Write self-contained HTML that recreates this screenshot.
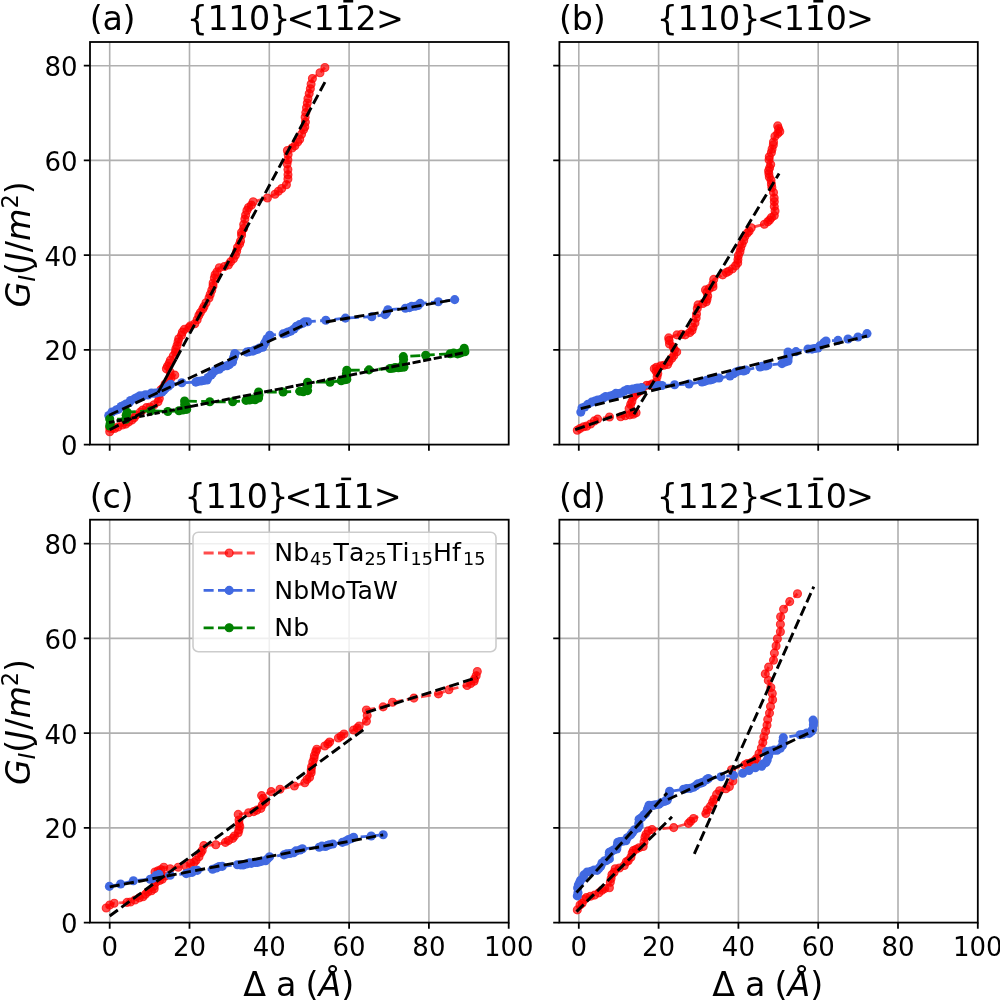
<!DOCTYPE html>
<html lang="en"><head><meta charset="utf-8"><title>Crack resistance curves</title>
<style>html,body{margin:0;padding:0;background:#fff}svg{display:block;will-change:transform}</style></head>
<body>
<svg width="1000" height="1001" viewBox="0 0 1000 1001" font-family="'DejaVu Sans', 'Liberation Sans', sans-serif" fill="#000">
<rect width="1000" height="1001" fill="#fff"/>
<defs>
<clipPath id="cla"><rect x="90" y="42" width="418.7" height="402.6"/></clipPath>
<clipPath id="clb"><rect x="559.4" y="42" width="418.4" height="402.6"/></clipPath>
<clipPath id="clc"><rect x="90" y="519.7" width="418.7" height="402.9"/></clipPath>
<clipPath id="cld"><rect x="559.4" y="519.7" width="418.4" height="402.9"/></clipPath>
</defs>
<rect x="90" y="42" width="418.7" height="402.6" fill="#fff"/>
<path d="M109.7 42V444.6M189.5 42V444.6M269.3 42V444.6M349.1 42V444.6M428.9 42V444.6M90 349.87H508.7M90 255.14H508.7M90 160.41H508.7M90 65.68H508.7" stroke="#b0b0b0" stroke-width="1.6" fill="none"/>
<g clip-path="url(#cla)">
<path d="M109.7 431.8 L109.7 428 L112 428.5 L118 427 L125.8 424.1 L134.2 417.8 L142.6 410.1 L150 407 L158 401.7 L159.4 394 L165 384.2 L171 378 L174.8 375.1 L170 372 L166.4 368.8 L169.2 363.2 L175.5 352 L178 342 L184.3 329.4 L194.8 323.8 L200.4 312.6 L206 302.8 L210.2 294.4 L213 286 L215.1 274.8 L219.3 267.8 L228.4 265 L235.4 255.2 L239.6 244 L243.7 224.5 L245.6 215 L248.5 207.5 L253.2 201.8 L267.4 198 L275 194.2 L281.7 188.5 L286.4 184.7 L287.9 179 L287.9 169.5 L287.9 160 L287.4 150.5 L294.9 145.8 L299.7 139.2 L303.5 129.7 L305.4 122.1 L305.8 112.6 L307.3 103.1 L309.2 93.6 L311.1 84.1 L312.4 78.5 L320 72.8 L324.9 67.5" fill="none" stroke="#ff0000" stroke-opacity="0.7" stroke-width="2.8" stroke-dasharray="10.05,4.35" stroke-linejoin="round"/>
<g fill="#ff0000" fill-opacity="0.7" stroke="#ff0000" stroke-opacity="0.7" stroke-width="1.1"><circle cx="109.7" cy="431.8" r="4.0"/><circle cx="109.7" cy="428" r="4.0"/><circle cx="112" cy="428.5" r="4.0"/><circle cx="114.59" cy="428.43" r="4.0"/><circle cx="118" cy="427" r="4.0"/><circle cx="122.28" cy="424.99" r="4.0"/><circle cx="125.8" cy="424.1" r="4.0"/><circle cx="128.55" cy="421.94" r="4.0"/><circle cx="131.89" cy="420.11" r="4.0"/><circle cx="134.2" cy="417.8" r="4.0"/><circle cx="135.92" cy="415.2" r="4.0"/><circle cx="140.2" cy="412.16" r="4.0"/><circle cx="142.6" cy="410.1" r="4.0"/><circle cx="146.48" cy="407.61" r="4.0"/><circle cx="150" cy="407" r="4.0"/><circle cx="154.09" cy="404.72" r="4.0"/><circle cx="158" cy="401.7" r="4.0"/><circle cx="159.31" cy="398.5" r="4.0"/><circle cx="159.4" cy="394" r="4.0"/><circle cx="160.99" cy="389.71" r="4.0"/><circle cx="162.75" cy="388.27" r="4.0"/><circle cx="165" cy="384.2" r="4.0"/><circle cx="168.52" cy="380.29" r="4.0"/><circle cx="171" cy="378" r="4.0"/><circle cx="174.8" cy="375.1" r="4.0"/><circle cx="170" cy="372" r="4.0"/><circle cx="166.4" cy="368.8" r="4.0"/><circle cx="167.49" cy="366.34" r="4.0"/><circle cx="169.2" cy="363.2" r="4.0"/><circle cx="170.42" cy="360.13" r="4.0"/><circle cx="173.33" cy="355.85" r="4.0"/><circle cx="175.5" cy="352" r="4.0"/><circle cx="175.8" cy="349.01" r="4.0"/><circle cx="176.99" cy="345.79" r="4.0"/><circle cx="178" cy="342" r="4.0"/><circle cx="178.72" cy="338.84" r="4.0"/><circle cx="181.5" cy="335.21" r="4.0"/><circle cx="182.39" cy="332.1" r="4.0"/><circle cx="184.3" cy="329.4" r="4.0"/><circle cx="188.93" cy="327.58" r="4.0"/><circle cx="190.51" cy="325.78" r="4.0"/><circle cx="194.8" cy="323.8" r="4.0"/><circle cx="197.18" cy="319.8" r="4.0"/><circle cx="198.83" cy="315.46" r="4.0"/><circle cx="200.4" cy="312.6" r="4.0"/><circle cx="202.81" cy="308.93" r="4.0"/><circle cx="204.07" cy="306.46" r="4.0"/><circle cx="206" cy="302.8" r="4.0"/><circle cx="209" cy="298.04" r="4.0"/><circle cx="210.2" cy="294.4" r="4.0"/><circle cx="211.74" cy="290.23" r="4.0"/><circle cx="213" cy="286" r="4.0"/><circle cx="213.13" cy="283.06" r="4.0"/><circle cx="214.37" cy="277.95" r="4.0"/><circle cx="215.1" cy="274.8" r="4.0"/><circle cx="216.92" cy="271.91" r="4.0"/><circle cx="219.3" cy="267.8" r="4.0"/><circle cx="224.39" cy="266.52" r="4.0"/><circle cx="228.4" cy="265" r="4.0"/><circle cx="230.51" cy="261.88" r="4.0"/><circle cx="233.44" cy="258.71" r="4.0"/><circle cx="235.4" cy="255.2" r="4.0"/><circle cx="236.65" cy="251.37" r="4.0"/><circle cx="237.49" cy="247.49" r="4.0"/><circle cx="239.6" cy="244" r="4.0"/><circle cx="240.55" cy="241.06" r="4.0"/><circle cx="241.58" cy="235.29" r="4.0"/><circle cx="241.5" cy="232.4" r="4.0"/><circle cx="243.64" cy="228.55" r="4.0"/><circle cx="243.7" cy="224.5" r="4.0"/><circle cx="244.84" cy="219.12" r="4.0"/><circle cx="245.6" cy="215" r="4.0"/><circle cx="246.91" cy="210.42" r="4.0"/><circle cx="248.5" cy="207.5" r="4.0"/><circle cx="251.42" cy="205.09" r="4.0"/><circle cx="253.2" cy="201.8" r="4.0"/><circle cx="267.4" cy="198" r="4.0"/><circle cx="275" cy="194.2" r="4.0"/><circle cx="278.44" cy="191.19" r="4.0"/><circle cx="281.7" cy="188.5" r="4.0"/><circle cx="286.4" cy="184.7" r="4.0"/><circle cx="287.9" cy="179" r="4.0"/><circle cx="287.98" cy="174.8" r="4.0"/><circle cx="287.9" cy="169.5" r="4.0"/><circle cx="287.11" cy="163.66" r="4.0"/><circle cx="287.9" cy="160" r="4.0"/><circle cx="288.13" cy="154.55" r="4.0"/><circle cx="287.4" cy="150.5" r="4.0"/><circle cx="292.08" cy="148.02" r="4.0"/><circle cx="294.9" cy="145.8" r="4.0"/><circle cx="297.7" cy="142.01" r="4.0"/><circle cx="299.7" cy="139.2" r="4.0"/><circle cx="301.55" cy="134.26" r="4.0"/><circle cx="303.5" cy="129.7" r="4.0"/><circle cx="304.81" cy="126.89" r="4.0"/><circle cx="305.4" cy="122.1" r="4.0"/><circle cx="305.13" cy="117.16" r="4.0"/><circle cx="305.8" cy="112.6" r="4.0"/><circle cx="306.53" cy="107.84" r="4.0"/><circle cx="307.3" cy="103.1" r="4.0"/><circle cx="307.94" cy="98.64" r="4.0"/><circle cx="309.2" cy="93.6" r="4.0"/><circle cx="310.36" cy="88.8" r="4.0"/><circle cx="311.1" cy="84.1" r="4.0"/><circle cx="312.4" cy="78.5" r="4.0"/><circle cx="320" cy="72.8" r="4.0"/><circle cx="324.9" cy="67.5" r="4.0"/></g>
</g>
<g clip-path="url(#cla)">
<path d="M108.8 415.5 L112 412 L116 410.1 L126 404 L137 397.5 L145.4 394.7 L153.8 393.3 L162 392 L170.6 384.2 L181.8 382.8 L195.8 382.1 L201 381 L207 380 L212.6 373 L221 367.4 L229.4 364.6 L232.5 362 L234.8 353.5 L246.7 352.1 L255.1 350 L262.8 347.2 L267 338.8 L269.8 335.3 L283.1 333.9 L290.8 331.1 L296.4 326.2 L302.7 323.4 L307.6 321.7 L325.8 320.3 L345.4 318.1 L371.8 316.7 L385.1 314.6 L387.9 309.7 L405.4 308.3 L415.2 306.2 L420.1 303.4 L438.3 301.7 L454.7 299.6" fill="none" stroke="#4169e1" stroke-opacity="1" stroke-width="2.8" stroke-dasharray="10.05,4.35" stroke-linejoin="round"/>
<g fill="#4169e1"><circle cx="108.8" cy="415.5" r="4.55"/><circle cx="112" cy="412" r="4.55"/><circle cx="116" cy="410.1" r="4.55"/><circle cx="118.33" cy="409.33" r="4.55"/><circle cx="121.13" cy="406.51" r="4.55"/><circle cx="123.45" cy="405.46" r="4.55"/><circle cx="126" cy="404" r="4.55"/><circle cx="129.19" cy="402.65" r="4.55"/><circle cx="130.56" cy="400.43" r="4.55"/><circle cx="134.66" cy="398.76" r="4.55"/><circle cx="137" cy="397.5" r="4.55"/><circle cx="139.92" cy="395.69" r="4.55"/><circle cx="142.64" cy="396" r="4.55"/><circle cx="145.4" cy="394.7" r="4.55"/><circle cx="147.94" cy="395" r="4.55"/><circle cx="151.44" cy="392.93" r="4.55"/><circle cx="153.8" cy="393.3" r="4.55"/><circle cx="155.9" cy="393.03" r="4.55"/><circle cx="159.84" cy="392.15" r="4.55"/><circle cx="162" cy="392" r="4.55"/><circle cx="163.76" cy="390.23" r="4.55"/><circle cx="165.49" cy="388.23" r="4.55"/><circle cx="168.38" cy="386.21" r="4.55"/><circle cx="170.6" cy="384.2" r="4.55"/><circle cx="181.8" cy="382.8" r="4.55"/><circle cx="195.8" cy="382.1" r="4.55"/><circle cx="197.96" cy="381.2" r="4.55"/><circle cx="201" cy="381" r="4.55"/><circle cx="203.57" cy="380.51" r="4.55"/><circle cx="207" cy="380" r="4.55"/><circle cx="208.07" cy="377.43" r="4.55"/><circle cx="211.12" cy="375" r="4.55"/><circle cx="212.6" cy="373" r="4.55"/><circle cx="215.32" cy="370.58" r="4.55"/><circle cx="219.21" cy="369.29" r="4.55"/><circle cx="221" cy="367.4" r="4.55"/><circle cx="223.18" cy="366.39" r="4.55"/><circle cx="227.02" cy="365.75" r="4.55"/><circle cx="229.4" cy="364.6" r="4.55"/><circle cx="232.5" cy="362" r="4.55"/><circle cx="233.31" cy="358.52" r="4.55"/><circle cx="234.42" cy="355.94" r="4.55"/><circle cx="234.8" cy="353.5" r="4.55"/><circle cx="246.7" cy="352.1" r="4.55"/><circle cx="249.26" cy="351.6" r="4.55"/><circle cx="252.97" cy="351.1" r="4.55"/><circle cx="255.1" cy="350" r="4.55"/><circle cx="257.72" cy="349.2" r="4.55"/><circle cx="259.5" cy="347.96" r="4.55"/><circle cx="262.8" cy="347.2" r="4.55"/><circle cx="264.29" cy="343.92" r="4.55"/><circle cx="265.44" cy="342.09" r="4.55"/><circle cx="267" cy="338.8" r="4.55"/><circle cx="269.8" cy="335.3" r="4.55"/><circle cx="283.1" cy="333.9" r="4.55"/><circle cx="286.02" cy="333.13" r="4.55"/><circle cx="288.04" cy="332" r="4.55"/><circle cx="290.8" cy="331.1" r="4.55"/><circle cx="293.91" cy="328.97" r="4.55"/><circle cx="296.4" cy="326.2" r="4.55"/><circle cx="299.51" cy="324.63" r="4.55"/><circle cx="302.7" cy="323.4" r="4.55"/><circle cx="304.89" cy="321.84" r="4.55"/><circle cx="307.6" cy="321.7" r="4.55"/><circle cx="325.8" cy="320.3" r="4.55"/><circle cx="345.4" cy="318.1" r="4.55"/><circle cx="371.8" cy="316.7" r="4.55"/><circle cx="385.1" cy="314.6" r="4.55"/><circle cx="386.46" cy="312.87" r="4.55"/><circle cx="387.9" cy="309.7" r="4.55"/><circle cx="405.4" cy="308.3" r="4.55"/><circle cx="409.49" cy="307.58" r="4.55"/><circle cx="411.65" cy="306.42" r="4.55"/><circle cx="415.2" cy="306.2" r="4.55"/><circle cx="418.04" cy="305.47" r="4.55"/><circle cx="420.1" cy="303.4" r="4.55"/><circle cx="438.3" cy="301.7" r="4.55"/><circle cx="454.7" cy="299.6" r="4.55"/></g>
</g>
<g clip-path="url(#cla)">
<path d="M109.7 426 L109.7 419 L125.8 419.2 L127.2 412.2 L151 410.8 L167.8 411.5 L179 410.8 L186.7 409.4 L184.6 401 L209.8 401.7 L232.7 401.8 L246 400.4 L255.1 399.7 L258.6 398 L258.6 392 L283.1 392 L299.9 391.3 L307.6 390.6 L307.6 382.2 L330 382.2 L341.2 380.8 L346.8 379.4 L346.8 370.3 L369 369.9 L390 368.5 L398.4 367.8 L404 367.1 L403.3 356.6 L425.7 355.2 L450.2 353.8 L460 353.1 L464.9 351.7 L464.2 348.2" fill="none" stroke="#008000" stroke-opacity="1" stroke-width="2.8" stroke-dasharray="10.05,4.35" stroke-linejoin="round"/>
<g fill="#008000"><circle cx="109.7" cy="426" r="4.55"/><circle cx="110.26" cy="423.14" r="4.55"/><circle cx="109.7" cy="419" r="4.55"/><circle cx="125.8" cy="419.2" r="4.55"/><circle cx="126.21" cy="415.16" r="4.55"/><circle cx="127.2" cy="412.2" r="4.55"/><circle cx="151" cy="410.8" r="4.55"/><circle cx="167.8" cy="411.5" r="4.55"/><circle cx="179" cy="410.8" r="4.55"/><circle cx="182.83" cy="410.02" r="4.55"/><circle cx="186.7" cy="409.4" r="4.55"/><circle cx="186.4" cy="406.28" r="4.55"/><circle cx="184.71" cy="404.55" r="4.55"/><circle cx="184.6" cy="401" r="4.55"/><circle cx="209.8" cy="401.7" r="4.55"/><circle cx="232.7" cy="401.8" r="4.55"/><circle cx="246" cy="400.4" r="4.55"/><circle cx="249.53" cy="400.02" r="4.55"/><circle cx="252.4" cy="399.11" r="4.55"/><circle cx="255.1" cy="399.7" r="4.55"/><circle cx="258.6" cy="398" r="4.55"/><circle cx="258.95" cy="395.08" r="4.55"/><circle cx="258.6" cy="392" r="4.55"/><circle cx="283.1" cy="392" r="4.55"/><circle cx="299.9" cy="391.3" r="4.55"/><circle cx="303.29" cy="391.71" r="4.55"/><circle cx="307.6" cy="390.6" r="4.55"/><circle cx="306.85" cy="387.24" r="4.55"/><circle cx="307.67" cy="385.66" r="4.55"/><circle cx="307.6" cy="382.2" r="4.55"/><circle cx="330" cy="382.2" r="4.55"/><circle cx="341.2" cy="380.8" r="4.55"/><circle cx="344.57" cy="379.76" r="4.55"/><circle cx="346.8" cy="379.4" r="4.55"/><circle cx="346.68" cy="376.8" r="4.55"/><circle cx="346.35" cy="374.05" r="4.55"/><circle cx="346.8" cy="370.3" r="4.55"/><circle cx="369" cy="369.9" r="4.55"/><circle cx="390" cy="368.5" r="4.55"/><circle cx="392.71" cy="368.27" r="4.55"/><circle cx="395.19" cy="367.64" r="4.55"/><circle cx="398.4" cy="367.8" r="4.55"/><circle cx="400.8" cy="367.44" r="4.55"/><circle cx="404" cy="367.1" r="4.55"/><circle cx="403.03" cy="364.02" r="4.55"/><circle cx="403.58" cy="359.5" r="4.55"/><circle cx="403.3" cy="356.6" r="4.55"/><circle cx="425.7" cy="355.2" r="4.55"/><circle cx="450.2" cy="353.8" r="4.55"/><circle cx="453.66" cy="353.05" r="4.55"/><circle cx="457.58" cy="353.85" r="4.55"/><circle cx="460" cy="353.1" r="4.55"/><circle cx="461.91" cy="352.28" r="4.55"/><circle cx="464.9" cy="351.7" r="4.55"/><circle cx="464.2" cy="348.2" r="4.55"/></g>
</g>
<g fill="none" stroke="#000" stroke-width="2.9" clip-path="url(#cla)">
<path d="M158 392.6L176 359.2"/>
<path d="M176 359.2L325 82" stroke-dasharray="10.1,4.4"/>
<path d="M109 415.3L307.6 323.4" stroke-dasharray="10.1,4.4"/>
<path d="M325.8 322L453 299.9" stroke-dasharray="10.1,4.4"/>
<path d="M109 422.5L190 406.6" stroke-dasharray="5.5,2.2"/>
<path d="M190 406.6L465.6 352.4" stroke-dasharray="8.2,2.6"/>
<path d="M109.7 429.8L158 404.6" stroke-dasharray="10.1,4.4"/>
</g>
<path d="M109.7 444.6v6.2M189.5 444.6v6.2M269.3 444.6v6.2M349.1 444.6v6.2M428.9 444.6v6.2M90 444.6h-6.2M90 349.87h-6.2M90 255.14h-6.2M90 160.41h-6.2M90 65.68h-6.2" stroke="#000" stroke-width="1.8" fill="none"/>
<rect x="90" y="42" width="418.7" height="402.6" fill="none" stroke="#000" stroke-width="1.8" stroke-linejoin="miter"/>
<text x="77.5" y="455.2" font-size="26" text-anchor="end">0</text>
<text x="77.5" y="360.47" font-size="26" text-anchor="end">20</text>
<text x="77.5" y="265.74" font-size="26" text-anchor="end">40</text>
<text x="77.5" y="171.01" font-size="26" text-anchor="end">60</text>
<text x="77.5" y="76.28" font-size="26" text-anchor="end">80</text>
<rect x="559.4" y="42" width="418.4" height="402.6" fill="#fff"/>
<path d="M578.8 42V444.6M658.6 42V444.6M738.4 42V444.6M818.2 42V444.6M898 42V444.6M559.4 349.87H977.8M559.4 255.14H977.8M559.4 160.41H977.8M559.4 65.68H977.8" stroke="#b0b0b0" stroke-width="1.6" fill="none"/>
<g clip-path="url(#clb)">
<path d="M577.3 430.3 L580 428.5 L583.6 426.8 L590.6 424 L597.6 419.1 L609.5 417 L620.7 416.7 L629.8 414.9 L636.1 412.8 L629.1 408.6 L631.9 401.6 L635.4 394.6 L642.4 387.6 L650 385 L656.4 382 L657.8 373.6 L654.3 368.7 L660.6 365.9 L667.6 364.5 L671.8 358.2 L676.7 351.9 L673.2 347 L669.5 344 L668.7 337.9 L677 334.9 L685.2 334.9 L692 330.4 L695 322.9 L696.5 313.9 L698 304.9 L706.2 301.9 L707.7 295.9 L705.5 289.9 L713 286.9 L713.7 279.4 L722.7 274.9 L732.4 268.9 L737.7 263 L738.4 255.5 L740.7 248 L743.7 240.5 L747.4 233 L751.2 227.7 L764.4 224.3 L769.6 220 L774.3 215.6 L774.3 206.4 L774.2 198 L773.5 192.4 L771.4 184 L769.3 177 L768.6 170.7 L770.7 164.4 L769.3 156.7 L772.1 149 L773.5 142 L774.9 136.4 L779.8 131.5 L777.7 125.9" fill="none" stroke="#ff0000" stroke-opacity="0.7" stroke-width="2.8" stroke-dasharray="10.05,4.35" stroke-linejoin="round"/>
<g fill="#ff0000" fill-opacity="0.7" stroke="#ff0000" stroke-opacity="0.7" stroke-width="1.1"><circle cx="577.3" cy="430.3" r="4.0"/><circle cx="580" cy="428.5" r="4.0"/><circle cx="583.6" cy="426.8" r="4.0"/><circle cx="586.67" cy="426.17" r="4.0"/><circle cx="590.6" cy="424" r="4.0"/><circle cx="594.34" cy="420.91" r="4.0"/><circle cx="597.6" cy="419.1" r="4.0"/><circle cx="609.5" cy="417" r="4.0"/><circle cx="620.7" cy="416.7" r="4.0"/><circle cx="625.22" cy="415.72" r="4.0"/><circle cx="629.8" cy="414.9" r="4.0"/><circle cx="633.33" cy="414.21" r="4.0"/><circle cx="636.1" cy="412.8" r="4.0"/><circle cx="632.92" cy="411.77" r="4.0"/><circle cx="629.1" cy="408.6" r="4.0"/><circle cx="630.64" cy="404.47" r="4.0"/><circle cx="631.9" cy="401.6" r="4.0"/><circle cx="633.17" cy="397.28" r="4.0"/><circle cx="635.4" cy="394.6" r="4.0"/><circle cx="637.92" cy="392.58" r="4.0"/><circle cx="640.25" cy="390.75" r="4.0"/><circle cx="642.4" cy="387.6" r="4.0"/><circle cx="646.72" cy="385.33" r="4.0"/><circle cx="650" cy="385" r="4.0"/><circle cx="652.47" cy="383.92" r="4.0"/><circle cx="656.4" cy="382" r="4.0"/><circle cx="657.07" cy="376.85" r="4.0"/><circle cx="657.8" cy="373.6" r="4.0"/><circle cx="656.2" cy="371.57" r="4.0"/><circle cx="654.3" cy="368.7" r="4.0"/><circle cx="656.53" cy="367.22" r="4.0"/><circle cx="660.6" cy="365.9" r="4.0"/><circle cx="663.99" cy="365.22" r="4.0"/><circle cx="667.6" cy="364.5" r="4.0"/><circle cx="669.06" cy="361.53" r="4.0"/><circle cx="671.8" cy="358.2" r="4.0"/><circle cx="673.85" cy="355.45" r="4.0"/><circle cx="676.7" cy="351.9" r="4.0"/><circle cx="674.51" cy="350.15" r="4.0"/><circle cx="673.2" cy="347" r="4.0"/><circle cx="669.5" cy="344" r="4.0"/><circle cx="669.12" cy="340.42" r="4.0"/><circle cx="668.7" cy="337.9" r="4.0"/><circle cx="677" cy="334.9" r="4.0"/><circle cx="681.39" cy="334.4" r="4.0"/><circle cx="685.2" cy="334.9" r="4.0"/><circle cx="689.76" cy="332.58" r="4.0"/><circle cx="692" cy="330.4" r="4.0"/><circle cx="692.97" cy="327.26" r="4.0"/><circle cx="695" cy="322.9" r="4.0"/><circle cx="696.17" cy="317.96" r="4.0"/><circle cx="696.5" cy="313.9" r="4.0"/><circle cx="697.29" cy="308.4" r="4.0"/><circle cx="698" cy="304.9" r="4.0"/><circle cx="702.87" cy="303.41" r="4.0"/><circle cx="706.2" cy="301.9" r="4.0"/><circle cx="707.01" cy="299.23" r="4.0"/><circle cx="707.7" cy="295.9" r="4.0"/><circle cx="706.91" cy="292.14" r="4.0"/><circle cx="705.5" cy="289.9" r="4.0"/><circle cx="709.31" cy="288.53" r="4.0"/><circle cx="713" cy="286.9" r="4.0"/><circle cx="712.86" cy="283.98" r="4.0"/><circle cx="713.7" cy="279.4" r="4.0"/><circle cx="722.7" cy="274.9" r="4.0"/><circle cx="726.34" cy="272.49" r="4.0"/><circle cx="728.68" cy="271.29" r="4.0"/><circle cx="732.4" cy="268.9" r="4.0"/><circle cx="735.53" cy="265.84" r="4.0"/><circle cx="737.7" cy="263" r="4.0"/><circle cx="737.93" cy="259.48" r="4.0"/><circle cx="738.4" cy="255.5" r="4.0"/><circle cx="739.98" cy="251.86" r="4.0"/><circle cx="740.7" cy="248" r="4.0"/><circle cx="742.06" cy="244.15" r="4.0"/><circle cx="743.7" cy="240.5" r="4.0"/><circle cx="744.87" cy="236.44" r="4.0"/><circle cx="747.4" cy="233" r="4.0"/><circle cx="749.13" cy="231.14" r="4.0"/><circle cx="751.2" cy="227.7" r="4.0"/><circle cx="764.4" cy="224.3" r="4.0"/><circle cx="767.72" cy="221.75" r="4.0"/><circle cx="769.6" cy="220" r="4.0"/><circle cx="771.46" cy="217.53" r="4.0"/><circle cx="774.3" cy="215.6" r="4.0"/><circle cx="775.07" cy="210.99" r="4.0"/><circle cx="774.3" cy="206.4" r="4.0"/><circle cx="774.31" cy="201.63" r="4.0"/><circle cx="774.2" cy="198" r="4.0"/><circle cx="773.5" cy="192.4" r="4.0"/><circle cx="771.85" cy="187.55" r="4.0"/><circle cx="771.4" cy="184" r="4.0"/><circle cx="771.04" cy="180.27" r="4.0"/><circle cx="769.3" cy="177" r="4.0"/><circle cx="768.87" cy="173.73" r="4.0"/><circle cx="768.6" cy="170.7" r="4.0"/><circle cx="769.6" cy="167.94" r="4.0"/><circle cx="770.7" cy="164.4" r="4.0"/><circle cx="769.06" cy="159.81" r="4.0"/><circle cx="769.3" cy="156.7" r="4.0"/><circle cx="771.38" cy="152.48" r="4.0"/><circle cx="772.1" cy="149" r="4.0"/><circle cx="773.31" cy="144.9" r="4.0"/><circle cx="773.5" cy="142" r="4.0"/><circle cx="774.9" cy="136.4" r="4.0"/><circle cx="777.75" cy="133.59" r="4.0"/><circle cx="779.8" cy="131.5" r="4.0"/><circle cx="778.61" cy="128.66" r="4.0"/><circle cx="777.7" cy="125.9" r="4.0"/></g>
</g>
<g clip-path="url(#clb)">
<path d="M580.8 412.1 L582 408 L587.8 404.4 L595 401 L603.2 398.1 L613 395.3 L624.2 391.1 L632.6 389 L641.7 387.6 L656.4 386.2 L662 385.5 L674.6 384.8 L689 384 L702 382 L710 380 L719 378 L730 376 L736 372 L746 370 L760 367 L768 365 L782 363.6 L788 361 L788 352 L796 351.6 L808 349 L818 348 L826 341 L838 340.4 L848 339 L858 337 L867 333.6" fill="none" stroke="#4169e1" stroke-opacity="1" stroke-width="2.8" stroke-dasharray="10.05,4.35" stroke-linejoin="round"/>
<g fill="#4169e1"><circle cx="580.8" cy="412.1" r="4.55"/><circle cx="582" cy="408" r="4.55"/><circle cx="584.66" cy="407" r="4.55"/><circle cx="587.8" cy="404.4" r="4.55"/><circle cx="591.71" cy="402.12" r="4.55"/><circle cx="595" cy="401" r="4.55"/><circle cx="597.7" cy="399.96" r="4.55"/><circle cx="600.83" cy="399.43" r="4.55"/><circle cx="603.2" cy="398.1" r="4.55"/><circle cx="605.6" cy="396.63" r="4.55"/><circle cx="610.25" cy="395.97" r="4.55"/><circle cx="613" cy="395.3" r="4.55"/><circle cx="615.89" cy="393.37" r="4.55"/><circle cx="618.65" cy="393.56" r="4.55"/><circle cx="621.27" cy="392.96" r="4.55"/><circle cx="624.2" cy="391.1" r="4.55"/><circle cx="627.38" cy="389.53" r="4.55"/><circle cx="629.15" cy="389.93" r="4.55"/><circle cx="632.6" cy="389" r="4.55"/><circle cx="636.27" cy="388.24" r="4.55"/><circle cx="638.22" cy="388.01" r="4.55"/><circle cx="641.7" cy="387.6" r="4.55"/><circle cx="656.4" cy="386.2" r="4.55"/><circle cx="658.49" cy="385.49" r="4.55"/><circle cx="662" cy="385.5" r="4.55"/><circle cx="674.6" cy="384.8" r="4.55"/><circle cx="689" cy="384" r="4.55"/><circle cx="702" cy="382" r="4.55"/><circle cx="704.58" cy="381.35" r="4.55"/><circle cx="706.87" cy="380.34" r="4.55"/><circle cx="710" cy="380" r="4.55"/><circle cx="712.56" cy="379.36" r="4.55"/><circle cx="715.52" cy="377.99" r="4.55"/><circle cx="719" cy="378" r="4.55"/><circle cx="730" cy="376" r="4.55"/><circle cx="733.56" cy="373.74" r="4.55"/><circle cx="736" cy="372" r="4.55"/><circle cx="739.47" cy="370.79" r="4.55"/><circle cx="743.6" cy="371.07" r="4.55"/><circle cx="746" cy="370" r="4.55"/><circle cx="760" cy="367" r="4.55"/><circle cx="762.1" cy="366.2" r="4.55"/><circle cx="765.71" cy="365.92" r="4.55"/><circle cx="768" cy="365" r="4.55"/><circle cx="782" cy="363.6" r="4.55"/><circle cx="785.61" cy="361.9" r="4.55"/><circle cx="788" cy="361" r="4.55"/><circle cx="788.27" cy="357.5" r="4.55"/><circle cx="788.14" cy="355.29" r="4.55"/><circle cx="788" cy="352" r="4.55"/><circle cx="796" cy="351.6" r="4.55"/><circle cx="808" cy="349" r="4.55"/><circle cx="812.03" cy="349.15" r="4.55"/><circle cx="814.69" cy="348.47" r="4.55"/><circle cx="818" cy="348" r="4.55"/><circle cx="819.77" cy="345.9" r="4.55"/><circle cx="823.64" cy="342.88" r="4.55"/><circle cx="826" cy="341" r="4.55"/><circle cx="838" cy="340.4" r="4.55"/><circle cx="848" cy="339" r="4.55"/><circle cx="858" cy="337" r="4.55"/><circle cx="867" cy="333.6" r="4.55"/></g>
</g>
<g fill="none" stroke="#000" stroke-width="2.9" clip-path="url(#clb)">
<path d="M575.2 429.6L635.4 408.6" stroke-dasharray="10.1,4.4"/>
<path d="M634 414.2L779.1 173.5" stroke-dasharray="10.1,4.4"/>
<path d="M580.8 408.6L867 336" stroke-dasharray="10.1,4.4"/>
</g>
<path d="M578.8 444.6v6.2M658.6 444.6v6.2M738.4 444.6v6.2M818.2 444.6v6.2M898 444.6v6.2M559.4 444.6h-6.2M559.4 349.87h-6.2M559.4 255.14h-6.2M559.4 160.41h-6.2M559.4 65.68h-6.2" stroke="#000" stroke-width="1.8" fill="none"/>
<rect x="559.4" y="42" width="418.4" height="402.6" fill="none" stroke="#000" stroke-width="1.8" stroke-linejoin="miter"/>
<rect x="90" y="519.7" width="418.7" height="402.9" fill="#fff"/>
<path d="M109.7 519.7V922.6M189.5 519.7V922.6M269.3 519.7V922.6M349.1 519.7V922.6M428.9 519.7V922.6M90 827.87H508.7M90 733.14H508.7M90 638.41H508.7M90 543.68H508.7" stroke="#b0b0b0" stroke-width="1.6" fill="none"/>
<g clip-path="url(#clc)">
<path d="M106.2 908 L109.7 905 L114.2 903.2 L127 902.4 L135 900 L143 896.8 L147.8 892 L154.2 888.8 L155.8 882.4 L162.2 879.2 L165.4 876 L159 874 L155 872 L163.8 867.2 L170.2 868.8 L178.2 867.2 L186.2 866.4 L194.2 862.4 L199 856.8 L202.2 850.4 L203.8 845.6 L215.8 844.8 L225.4 842.4 L232.6 838.4 L238.2 832.8 L239.8 826.4 L239 820 L238.2 814.4 L248.6 812.8 L253.6 811.6 L260.8 808.4 L265.6 802 L261.6 795.6 L271.2 791.6 L280 789.2 L294.4 786 L304.8 782.8 L309.6 777.2 L311.2 770 L312.8 762 L314.4 755.6 L316.8 749.2 L324.8 746 L329.6 742 L338.4 738 L344 734 L353.6 730 L359.2 726 L366.4 721.2 L367.2 715.6 L366.4 710 L383.1 706.9 L392.5 702.3 L413.9 698.1 L438.4 693.9 L448.9 689.7 L467.1 685.5 L474.1 681.3 L476.2 675.7 L477.3 671.5" fill="none" stroke="#ff0000" stroke-opacity="0.7" stroke-width="2.8" stroke-dasharray="10.05,4.35" stroke-linejoin="round"/>
<g fill="#ff0000" fill-opacity="0.7" stroke="#ff0000" stroke-opacity="0.7" stroke-width="1.1"><circle cx="106.2" cy="908" r="4.0"/><circle cx="109.7" cy="905" r="4.0"/><circle cx="114.2" cy="903.2" r="4.0"/><circle cx="127" cy="902.4" r="4.0"/><circle cx="130.43" cy="901.95" r="4.0"/><circle cx="135" cy="900" r="4.0"/><circle cx="139.38" cy="897.83" r="4.0"/><circle cx="143" cy="896.8" r="4.0"/><circle cx="145.34" cy="894.35" r="4.0"/><circle cx="147.8" cy="892" r="4.0"/><circle cx="151.45" cy="890.69" r="4.0"/><circle cx="154.2" cy="888.8" r="4.0"/><circle cx="154.11" cy="886.07" r="4.0"/><circle cx="155.8" cy="882.4" r="4.0"/><circle cx="159.49" cy="880.44" r="4.0"/><circle cx="162.2" cy="879.2" r="4.0"/><circle cx="165.4" cy="876" r="4.0"/><circle cx="161.54" cy="875.63" r="4.0"/><circle cx="159" cy="874" r="4.0"/><circle cx="155" cy="872" r="4.0"/><circle cx="158.02" cy="870.75" r="4.0"/><circle cx="160.81" cy="869.64" r="4.0"/><circle cx="163.8" cy="867.2" r="4.0"/><circle cx="170.2" cy="868.8" r="4.0"/><circle cx="178.2" cy="867.2" r="4.0"/><circle cx="186.2" cy="866.4" r="4.0"/><circle cx="190.67" cy="863.33" r="4.0"/><circle cx="194.2" cy="862.4" r="4.0"/><circle cx="196.08" cy="860.31" r="4.0"/><circle cx="199" cy="856.8" r="4.0"/><circle cx="200.78" cy="852.81" r="4.0"/><circle cx="202.2" cy="850.4" r="4.0"/><circle cx="203.8" cy="845.6" r="4.0"/><circle cx="215.8" cy="844.8" r="4.0"/><circle cx="225.4" cy="842.4" r="4.0"/><circle cx="228.43" cy="840.57" r="4.0"/><circle cx="232.6" cy="838.4" r="4.0"/><circle cx="234.43" cy="835.94" r="4.0"/><circle cx="238.2" cy="832.8" r="4.0"/><circle cx="238.97" cy="829.7" r="4.0"/><circle cx="239.8" cy="826.4" r="4.0"/><circle cx="239.03" cy="823.68" r="4.0"/><circle cx="239" cy="820" r="4.0"/><circle cx="238.2" cy="814.4" r="4.0"/><circle cx="248.6" cy="812.8" r="4.0"/><circle cx="253.6" cy="811.6" r="4.0"/><circle cx="256.67" cy="810.17" r="4.0"/><circle cx="260.8" cy="808.4" r="4.0"/><circle cx="262.34" cy="805.08" r="4.0"/><circle cx="265.6" cy="802" r="4.0"/><circle cx="263.34" cy="798.21" r="4.0"/><circle cx="261.6" cy="795.6" r="4.0"/><circle cx="271.2" cy="791.6" r="4.0"/><circle cx="280" cy="789.2" r="4.0"/><circle cx="294.4" cy="786" r="4.0"/><circle cx="304.8" cy="782.8" r="4.0"/><circle cx="306.99" cy="779.47" r="4.0"/><circle cx="309.6" cy="777.2" r="4.0"/><circle cx="311.16" cy="772.84" r="4.0"/><circle cx="311.2" cy="770" r="4.0"/><circle cx="311.59" cy="766.71" r="4.0"/><circle cx="312.8" cy="762" r="4.0"/><circle cx="314.02" cy="758.53" r="4.0"/><circle cx="314.4" cy="755.6" r="4.0"/><circle cx="315.75" cy="751.66" r="4.0"/><circle cx="316.8" cy="749.2" r="4.0"/><circle cx="324.8" cy="746" r="4.0"/><circle cx="327.77" cy="743.88" r="4.0"/><circle cx="329.6" cy="742" r="4.0"/><circle cx="338.4" cy="738" r="4.0"/><circle cx="341.01" cy="736.31" r="4.0"/><circle cx="344" cy="734" r="4.0"/><circle cx="353.6" cy="730" r="4.0"/><circle cx="357.26" cy="728.07" r="4.0"/><circle cx="359.2" cy="726" r="4.0"/><circle cx="366.4" cy="721.2" r="4.0"/><circle cx="367.2" cy="715.6" r="4.0"/><circle cx="366.4" cy="710" r="4.0"/><circle cx="383.1" cy="706.9" r="4.0"/><circle cx="392.5" cy="702.3" r="4.0"/><circle cx="413.9" cy="698.1" r="4.0"/><circle cx="438.4" cy="693.9" r="4.0"/><circle cx="448.9" cy="689.7" r="4.0"/><circle cx="467.1" cy="685.5" r="4.0"/><circle cx="470.68" cy="683.52" r="4.0"/><circle cx="474.1" cy="681.3" r="4.0"/><circle cx="474.52" cy="679.01" r="4.0"/><circle cx="476.2" cy="675.7" r="4.0"/><circle cx="477.3" cy="671.5" r="4.0"/></g>
</g>
<g clip-path="url(#clc)">
<path d="M109.4 886.4 L120.6 884 L133.4 880.8 L150.2 879.2 L159 874.4 L170.2 875.2 L186.2 873.6 L197.4 870.4 L212.6 869.3 L222.2 866.4 L237.4 864.8 L246.4 864 L257.6 862.4 L265.6 860.8 L269.6 856.8 L284 854.9 L293.6 852.8 L302.4 848.8 L319.2 847.2 L327.2 845.6 L332.8 844 L342.4 842.4 L353.6 837.3 L371.2 836 L383.2 834.7" fill="none" stroke="#4169e1" stroke-opacity="1" stroke-width="2.8" stroke-dasharray="10.05,4.35" stroke-linejoin="round"/>
<g fill="#4169e1"><circle cx="109.4" cy="886.4" r="4.55"/><circle cx="120.6" cy="884" r="4.55"/><circle cx="133.4" cy="880.8" r="4.55"/><circle cx="150.2" cy="879.2" r="4.55"/><circle cx="152.86" cy="878.38" r="4.55"/><circle cx="156.27" cy="875.44" r="4.55"/><circle cx="159" cy="874.4" r="4.55"/><circle cx="170.2" cy="875.2" r="4.55"/><circle cx="186.2" cy="873.6" r="4.55"/><circle cx="188.97" cy="872.72" r="4.55"/><circle cx="192.14" cy="872.38" r="4.55"/><circle cx="193.82" cy="870.64" r="4.55"/><circle cx="197.4" cy="870.4" r="4.55"/><circle cx="212.6" cy="869.3" r="4.55"/><circle cx="216.31" cy="868.07" r="4.55"/><circle cx="219.19" cy="866.48" r="4.55"/><circle cx="222.2" cy="866.4" r="4.55"/><circle cx="237.4" cy="864.8" r="4.55"/><circle cx="240.35" cy="864.89" r="4.55"/><circle cx="243.06" cy="865.01" r="4.55"/><circle cx="246.4" cy="864" r="4.55"/><circle cx="249.66" cy="862.78" r="4.55"/><circle cx="251.34" cy="863.36" r="4.55"/><circle cx="255.39" cy="862.52" r="4.55"/><circle cx="257.6" cy="862.4" r="4.55"/><circle cx="259.86" cy="861.82" r="4.55"/><circle cx="262.22" cy="861.02" r="4.55"/><circle cx="265.6" cy="860.8" r="4.55"/><circle cx="267.53" cy="858.86" r="4.55"/><circle cx="269.6" cy="856.8" r="4.55"/><circle cx="284" cy="854.9" r="4.55"/><circle cx="286.68" cy="853.87" r="4.55"/><circle cx="289.94" cy="853.54" r="4.55"/><circle cx="293.6" cy="852.8" r="4.55"/><circle cx="295.91" cy="850.91" r="4.55"/><circle cx="300" cy="849.99" r="4.55"/><circle cx="302.4" cy="848.8" r="4.55"/><circle cx="319.2" cy="847.2" r="4.55"/><circle cx="321.96" cy="846.14" r="4.55"/><circle cx="325.3" cy="846.57" r="4.55"/><circle cx="327.2" cy="845.6" r="4.55"/><circle cx="329.4" cy="844.69" r="4.55"/><circle cx="332.8" cy="844" r="4.55"/><circle cx="342.4" cy="842.4" r="4.55"/><circle cx="345.65" cy="841.29" r="4.55"/><circle cx="348.56" cy="839.46" r="4.55"/><circle cx="351.37" cy="838.61" r="4.55"/><circle cx="353.6" cy="837.3" r="4.55"/><circle cx="371.2" cy="836" r="4.55"/><circle cx="383.2" cy="834.7" r="4.55"/></g>
</g>
<g fill="none" stroke="#000" stroke-width="2.9" clip-path="url(#clc)">
<path d="M109.7 916L366.4 727.6" stroke-dasharray="10.1,4.4"/>
<path d="M366.3 712.5L477.3 677.5" stroke-dasharray="10.1,4.4"/>
<path d="M109.7 886.9L383.2 834.8" stroke-dasharray="10.1,4.4"/>
</g>
<rect x="559.4" y="519.7" width="418.4" height="402.9" fill="#fff"/>
<path d="M578.8 519.7V922.6M658.6 519.7V922.6M738.4 519.7V922.6M818.2 519.7V922.6M898 519.7V922.6M559.4 827.87H977.8M559.4 733.14H977.8M559.4 638.41H977.8M559.4 543.68H977.8" stroke="#b0b0b0" stroke-width="1.6" fill="none"/>
<g clip-path="url(#cld)">
<path d="M577.3 909.9 L580 905 L586.4 897.6 L594.6 895.1 L602 890.2 L609.4 887.7 L611.1 878.6 L615.2 868.8 L624.3 865.5 L630.9 857.2 L633.3 850.6 L643.2 846.5 L644.9 837.4 L648.2 830.9 L652 829.5 L673.7 827.6 L688.5 823.4 L693.5 818.5 L705.8 813.6 L710.5 806.2 L714 799.2 L719.6 790.8 L729.4 786.6 L732.9 781 L731.5 769.8 L744.8 764.9 L754.6 760.7 L756.5 758.5 L759 753.6 L761.4 748 L762.8 742.4 L763.9 736.9 L765.6 731.3 L767 725.3 L767.7 719.4 L769.5 713.1 L770.5 706.4 L772.6 699.8 L772.3 693.5 L770.9 687.5 L768.3 680.4 L765.3 673.9 L768.6 667.1 L773.5 660.3 L774.4 653.1 L776.1 646 L777.4 638.8 L780.4 631.7 L780.4 624.3 L780.6 616.8 L783.6 609.2 L789.7 601.6 L797.5 593.8" fill="none" stroke="#ff0000" stroke-opacity="0.7" stroke-width="2.8" stroke-dasharray="10.05,4.35" stroke-linejoin="round"/>
<g fill="#ff0000" fill-opacity="0.7" stroke="#ff0000" stroke-opacity="0.7" stroke-width="1.1"><circle cx="577.3" cy="909.9" r="4.0"/><circle cx="580" cy="905" r="4.0"/><circle cx="582.16" cy="903.35" r="4.0"/><circle cx="584.25" cy="899.48" r="4.0"/><circle cx="586.4" cy="897.6" r="4.0"/><circle cx="590.47" cy="896.28" r="4.0"/><circle cx="594.6" cy="895.1" r="4.0"/><circle cx="598.84" cy="892.85" r="4.0"/><circle cx="602" cy="890.2" r="4.0"/><circle cx="604.71" cy="888.49" r="4.0"/><circle cx="609.4" cy="887.7" r="4.0"/><circle cx="610.29" cy="882.37" r="4.0"/><circle cx="611.1" cy="878.6" r="4.0"/><circle cx="611.91" cy="874.6" r="4.0"/><circle cx="614.12" cy="872.29" r="4.0"/><circle cx="615.2" cy="868.8" r="4.0"/><circle cx="619.38" cy="868.04" r="4.0"/><circle cx="624.3" cy="865.5" r="4.0"/><circle cx="626.35" cy="861.71" r="4.0"/><circle cx="628.23" cy="860.66" r="4.0"/><circle cx="630.9" cy="857.2" r="4.0"/><circle cx="632.18" cy="853.11" r="4.0"/><circle cx="633.3" cy="850.6" r="4.0"/><circle cx="636.08" cy="849.31" r="4.0"/><circle cx="638.95" cy="847.78" r="4.0"/><circle cx="643.2" cy="846.5" r="4.0"/><circle cx="644.02" cy="842.09" r="4.0"/><circle cx="644.9" cy="837.4" r="4.0"/><circle cx="645.95" cy="834.39" r="4.0"/><circle cx="648.2" cy="830.9" r="4.0"/><circle cx="652" cy="829.5" r="4.0"/><circle cx="673.7" cy="827.6" r="4.0"/><circle cx="688.5" cy="823.4" r="4.0"/><circle cx="690.6" cy="821.25" r="4.0"/><circle cx="693.5" cy="818.5" r="4.0"/><circle cx="705.8" cy="813.6" r="4.0"/><circle cx="707.26" cy="809.88" r="4.0"/><circle cx="710.5" cy="806.2" r="4.0"/><circle cx="712.63" cy="802.15" r="4.0"/><circle cx="714" cy="799.2" r="4.0"/><circle cx="716.58" cy="794.42" r="4.0"/><circle cx="719.6" cy="790.8" r="4.0"/><circle cx="725.93" cy="788.71" r="4.0"/><circle cx="729.4" cy="786.6" r="4.0"/><circle cx="732.9" cy="781" r="4.0"/><circle cx="731.5" cy="769.8" r="4.0"/><circle cx="744.8" cy="764.9" r="4.0"/><circle cx="747.34" cy="763.52" r="4.0"/><circle cx="751.83" cy="762.26" r="4.0"/><circle cx="754.6" cy="760.7" r="4.0"/><circle cx="756.5" cy="758.5" r="4.0"/><circle cx="759" cy="753.6" r="4.0"/><circle cx="761.4" cy="748" r="4.0"/><circle cx="762.8" cy="742.4" r="4.0"/><circle cx="763.9" cy="736.9" r="4.0"/><circle cx="765.6" cy="731.3" r="4.0"/><circle cx="767" cy="725.3" r="4.0"/><circle cx="767.7" cy="719.4" r="4.0"/><circle cx="769.5" cy="713.1" r="4.0"/><circle cx="770.5" cy="706.4" r="4.0"/><circle cx="772.6" cy="699.8" r="4.0"/><circle cx="772.3" cy="693.5" r="4.0"/><circle cx="770.9" cy="687.5" r="4.0"/><circle cx="768.3" cy="680.4" r="4.0"/><circle cx="765.3" cy="673.9" r="4.0"/><circle cx="768.6" cy="667.1" r="4.0"/><circle cx="773.5" cy="660.3" r="4.0"/><circle cx="774.4" cy="653.1" r="4.0"/><circle cx="776.1" cy="646" r="4.0"/><circle cx="777.4" cy="638.8" r="4.0"/><circle cx="780.4" cy="631.7" r="4.0"/><circle cx="780.4" cy="624.3" r="4.0"/><circle cx="780.6" cy="616.8" r="4.0"/><circle cx="783.6" cy="609.2" r="4.0"/><circle cx="789.7" cy="601.6" r="4.0"/><circle cx="797.5" cy="593.8" r="4.0"/></g>
</g>
<g clip-path="url(#cld)">
<path d="M577.3 895.9 L577.6 888 L580.6 880.3 L587.2 872 L597.1 870.4 L602 863 L609.4 858.9 L609.4 852.3 L616.8 849 L617.7 842.4 L625.9 840.7 L632.5 832.5 L639.1 825.9 L639.1 819.3 L645.7 813.6 L649 805.3 L658.9 804.2 L667.1 800.4 L669.6 791.3 L683.6 789.3 L693.5 787.2 L700.9 783.1 L708.3 778.5 L721 776.8 L733.6 775.4 L742.7 773.3 L749 770.5 L755.3 767.7 L761.6 766.3 L767.2 760 L768.6 755.8 L766.5 751.6 L777 750.2 L782.6 745.3 L783.3 737.6 L800.1 734.8 L809.2 733.4 L812.7 729.2 L813.4 725 L813.1 720.1" fill="none" stroke="#4169e1" stroke-opacity="1" stroke-width="2.8" stroke-dasharray="10.05,4.35" stroke-linejoin="round"/>
<g fill="#4169e1"><circle cx="577.3" cy="895.9" r="4.55"/><circle cx="577.98" cy="892.69" r="4.55"/><circle cx="577.6" cy="888" r="4.55"/><circle cx="578.37" cy="884.95" r="4.55"/><circle cx="579.52" cy="882.84" r="4.55"/><circle cx="580.6" cy="880.3" r="4.55"/><circle cx="583.33" cy="877.61" r="4.55"/><circle cx="583.96" cy="874.86" r="4.55"/><circle cx="587.2" cy="872" r="4.55"/><circle cx="591.04" cy="871.27" r="4.55"/><circle cx="594.11" cy="870.08" r="4.55"/><circle cx="597.1" cy="870.4" r="4.55"/><circle cx="598.98" cy="868.2" r="4.55"/><circle cx="600.74" cy="866.19" r="4.55"/><circle cx="602" cy="863" r="4.55"/><circle cx="604.6" cy="860.7" r="4.55"/><circle cx="606.38" cy="860.65" r="4.55"/><circle cx="609.4" cy="858.9" r="4.55"/><circle cx="609.21" cy="854.88" r="4.55"/><circle cx="609.4" cy="852.3" r="4.55"/><circle cx="611.47" cy="851.24" r="4.55"/><circle cx="613.57" cy="849.95" r="4.55"/><circle cx="616.8" cy="849" r="4.55"/><circle cx="617.23" cy="845.8" r="4.55"/><circle cx="617.7" cy="842.4" r="4.55"/><circle cx="619.98" cy="841.49" r="4.55"/><circle cx="622.77" cy="841.28" r="4.55"/><circle cx="625.9" cy="840.7" r="4.55"/><circle cx="627.27" cy="837.77" r="4.55"/><circle cx="630.74" cy="834.83" r="4.55"/><circle cx="632.5" cy="832.5" r="4.55"/><circle cx="634.5" cy="829.79" r="4.55"/><circle cx="637.85" cy="827.97" r="4.55"/><circle cx="639.1" cy="825.9" r="4.55"/><circle cx="638.83" cy="823.23" r="4.55"/><circle cx="639.1" cy="819.3" r="4.55"/><circle cx="641.76" cy="817.45" r="4.55"/><circle cx="643.9" cy="814.99" r="4.55"/><circle cx="645.7" cy="813.6" r="4.55"/><circle cx="647.23" cy="810.48" r="4.55"/><circle cx="647.92" cy="808.39" r="4.55"/><circle cx="649" cy="805.3" r="4.55"/><circle cx="652.99" cy="805.41" r="4.55"/><circle cx="655.62" cy="804.71" r="4.55"/><circle cx="658.9" cy="804.2" r="4.55"/><circle cx="660.82" cy="802.85" r="4.55"/><circle cx="664.72" cy="801.35" r="4.55"/><circle cx="667.1" cy="800.4" r="4.55"/><circle cx="667.87" cy="797.88" r="4.55"/><circle cx="669.12" cy="794.1" r="4.55"/><circle cx="669.6" cy="791.3" r="4.55"/><circle cx="683.6" cy="789.3" r="4.55"/><circle cx="686.67" cy="788.55" r="4.55"/><circle cx="690.31" cy="788.33" r="4.55"/><circle cx="693.5" cy="787.2" r="4.55"/><circle cx="695.91" cy="785.67" r="4.55"/><circle cx="698.06" cy="783.82" r="4.55"/><circle cx="700.9" cy="783.1" r="4.55"/><circle cx="702.98" cy="782.19" r="4.55"/><circle cx="706.51" cy="779.79" r="4.55"/><circle cx="708.3" cy="778.5" r="4.55"/><circle cx="721" cy="776.8" r="4.55"/><circle cx="733.6" cy="775.4" r="4.55"/><circle cx="742.7" cy="773.3" r="4.55"/><circle cx="749" cy="770.5" r="4.55"/><circle cx="755.3" cy="767.7" r="4.55"/><circle cx="761.6" cy="766.3" r="4.55"/><circle cx="762.97" cy="763.96" r="4.55"/><circle cx="765.91" cy="762.61" r="4.55"/><circle cx="767.2" cy="760" r="4.55"/><circle cx="768.6" cy="755.8" r="4.55"/><circle cx="766.5" cy="751.6" r="4.55"/><circle cx="770.48" cy="751.13" r="4.55"/><circle cx="774.07" cy="750.16" r="4.55"/><circle cx="777" cy="750.2" r="4.55"/><circle cx="780.3" cy="748.28" r="4.55"/><circle cx="782.6" cy="745.3" r="4.55"/><circle cx="782.9" cy="741.29" r="4.55"/><circle cx="783.3" cy="737.6" r="4.55"/><circle cx="800.1" cy="734.8" r="4.55"/><circle cx="802.8" cy="734.46" r="4.55"/><circle cx="806.74" cy="732.98" r="4.55"/><circle cx="809.2" cy="733.4" r="4.55"/><circle cx="811.59" cy="731.33" r="4.55"/><circle cx="812.7" cy="729.2" r="4.55"/><circle cx="813.4" cy="725" r="4.55"/><circle cx="813.61" cy="722.05" r="4.55"/><circle cx="813.1" cy="720.1" r="4.55"/></g>
</g>
<g fill="none" stroke="#000" stroke-width="2.9" clip-path="url(#cld)">
<path d="M576.5 911.6L672 816.8" stroke-dasharray="10.1,4.4"/>
<path d="M694.3 853.9L813.8 586.6" stroke-dasharray="10.1,4.4"/>
<path d="M576.5 892.6L667.1 793" stroke-dasharray="10.1,4.4"/>
<path d="M667.9 799.5L814.1 730.6" stroke-dasharray="10.1,4.4"/>
</g>
<path d="M578.8 922.6v6.2M658.6 922.6v6.2M738.4 922.6v6.2M818.2 922.6v6.2M898 922.6v6.2M977.8 922.6v6.2M559.4 922.6h-6.2M559.4 827.87h-6.2M559.4 733.14h-6.2M559.4 638.41h-6.2M559.4 543.68h-6.2" stroke="#000" stroke-width="1.8" fill="none"/>
<rect x="559.4" y="519.7" width="418.4" height="402.9" fill="none" stroke="#000" stroke-width="1.8" stroke-linejoin="miter"/>
<text x="578.8" y="955.5" font-size="26" text-anchor="middle">0</text>
<text x="658.6" y="955.5" font-size="26" text-anchor="middle">20</text>
<text x="738.4" y="955.5" font-size="26" text-anchor="middle">40</text>
<text x="818.2" y="955.5" font-size="26" text-anchor="middle">60</text>
<text x="898" y="955.5" font-size="26" text-anchor="middle">80</text>
<text x="977.8" y="955.5" font-size="26" text-anchor="middle">100</text>
<rect x="193" y="532.2" width="303" height="119.5" rx="5.3" ry="5.3" fill="#fff" fill-opacity="0.8" stroke="#ccc" stroke-width="1.6"/>
<path d="M203.6 553.0H254.8" stroke="#ff0000" stroke-opacity="0.7" stroke-width="2.8" stroke-dasharray="10.05,4.35" fill="none"/>
<circle cx="229.2" cy="553.0" r="4.0" fill="#ff0000" fill-opacity="0.7" stroke="#ff0000" stroke-opacity="0.7" stroke-width="1.1"/>
<path d="M203.6 590.4H254.8" stroke="#4169e1" stroke-opacity="1" stroke-width="2.8" stroke-dasharray="10.05,4.35" fill="none"/>
<circle cx="229.2" cy="590.4" r="4.0" fill="#4169e1" fill-opacity="1" stroke="#4169e1" stroke-opacity="1" stroke-width="1.1"/>
<path d="M203.6 627.8H254.8" stroke="#008000" stroke-opacity="1" stroke-width="2.8" stroke-dasharray="10.05,4.35" fill="none"/>
<circle cx="229.2" cy="627.8" r="4.0" fill="#008000" fill-opacity="1" stroke="#008000" stroke-opacity="1" stroke-width="1.1"/>
<text x="274.3" y="560.9" font-size="25.2" style="font-kerning:none">Nb<tspan x="310.0" font-size="17.6" dy="3.9">45</tspan><tspan x="333.6" dy="-3.9">Ta</tspan><tspan x="364.4" font-size="17.6" dy="3.9">25</tspan><tspan x="387.1" dy="-3.9">Ti</tspan><tspan x="410.6" font-size="17.6" dy="3.9">15</tspan><tspan x="433.0" dy="-3.9">Hf</tspan><tspan x="463.0" font-size="17.6" dy="3.9">15</tspan></text>
<text x="274.3" y="599.4" font-size="25.2">NbMoTaW</text>
<text x="274.3" y="635.5" font-size="25.2">Nb</text>
<path d="M109.7 922.6v6.2M189.5 922.6v6.2M269.3 922.6v6.2M349.1 922.6v6.2M428.9 922.6v6.2M508.7 922.6v6.2M90 922.6h-6.2M90 827.87h-6.2M90 733.14h-6.2M90 638.41h-6.2M90 543.68h-6.2" stroke="#000" stroke-width="1.8" fill="none"/>
<rect x="90" y="519.7" width="418.7" height="402.9" fill="none" stroke="#000" stroke-width="1.8" stroke-linejoin="miter"/>
<text x="77.5" y="933.2" font-size="26" text-anchor="end">0</text>
<text x="77.5" y="838.47" font-size="26" text-anchor="end">20</text>
<text x="77.5" y="743.74" font-size="26" text-anchor="end">40</text>
<text x="77.5" y="649.01" font-size="26" text-anchor="end">60</text>
<text x="77.5" y="554.28" font-size="26" text-anchor="end">80</text>
<text x="109.7" y="955.5" font-size="26" text-anchor="middle">0</text>
<text x="189.5" y="955.5" font-size="26" text-anchor="middle">20</text>
<text x="269.3" y="955.5" font-size="26" text-anchor="middle">40</text>
<text x="349.1" y="955.5" font-size="26" text-anchor="middle">60</text>
<text x="428.9" y="955.5" font-size="26" text-anchor="middle">80</text>
<text x="508.7" y="955.5" font-size="26" text-anchor="middle">100</text>
<text x="89.7 102.5 122.61" y="30.4" font-size="33.3">(a)</text>
<text x="186.7 207.5 228.3 248.9 269.3 286.6 313.6 334.4 355.6 375.9" y="30.4" font-size="33.3">{110}&lt;112&gt;</text>
<rect x="343.3" y="-0.1" width="9.9" height="2.6" fill="#000"/>
<text x="559 571.8 592.65" y="30.4" font-size="33.3">(b)</text>
<text x="656.73 677.53 698.33 718.93 739.33 756.63 783.63 804.43 825.63 845.93" y="30.4" font-size="33.3">{110}&lt;110&gt;</text>
<rect x="813.33" y="-0.1" width="9.9" height="2.6" fill="#000"/>
<text x="89.7 102.5 120.52" y="508.1" font-size="33.3">(c)</text>
<text x="184.6 205.4 226.2 246.8 267.2 284.5 311.5 332.3 353.5 373.8" y="508.1" font-size="33.3">{110}&lt;111&gt;</text>
<rect x="341.2" y="477.6" width="9.9" height="2.6" fill="#000"/>
<text x="559 571.8 592.65" y="508.1" font-size="33.3">(d)</text>
<text x="656.73 677.53 698.33 718.93 739.33 756.63 783.63 804.43 825.63 845.93" y="508.1" font-size="33.3">{112}&lt;110&gt;</text>
<rect x="813.33" y="477.6" width="9.9" height="2.6" fill="#000"/>
<text transform="translate(29.8,244.3) rotate(-90)" font-size="33.3" text-anchor="middle"><tspan font-style="italic">G</tspan><tspan font-style="italic" font-size="22.4" dy="5.2">I</tspan><tspan dy="-5.2">(</tspan><tspan font-style="italic">J</tspan>/<tspan font-style="italic">m</tspan><tspan font-size="22.4" dy="-11.6">2</tspan><tspan dy="11.6">)</tspan></text>
<text transform="translate(29.8,722.0) rotate(-90)" font-size="33.3" text-anchor="middle"><tspan font-style="italic">G</tspan><tspan font-style="italic" font-size="22.4" dy="5.2">I</tspan><tspan dy="-5.2">(</tspan><tspan font-style="italic">J</tspan>/<tspan font-style="italic">m</tspan><tspan font-size="22.4" dy="-11.6">2</tspan><tspan dy="11.6">)</tspan></text>
<text x="243.3 264 275.9 296 305.4 318.4 341.2" y="995.7" font-size="33.3">Δ a (<tspan font-style="italic">Å</tspan>)</text>
<text x="712.3 733 744.9 765 774.4 787.4 810.2" y="995.7" font-size="33.3">Δ a (<tspan font-style="italic">Å</tspan>)</text>
</svg>
</body></html>
